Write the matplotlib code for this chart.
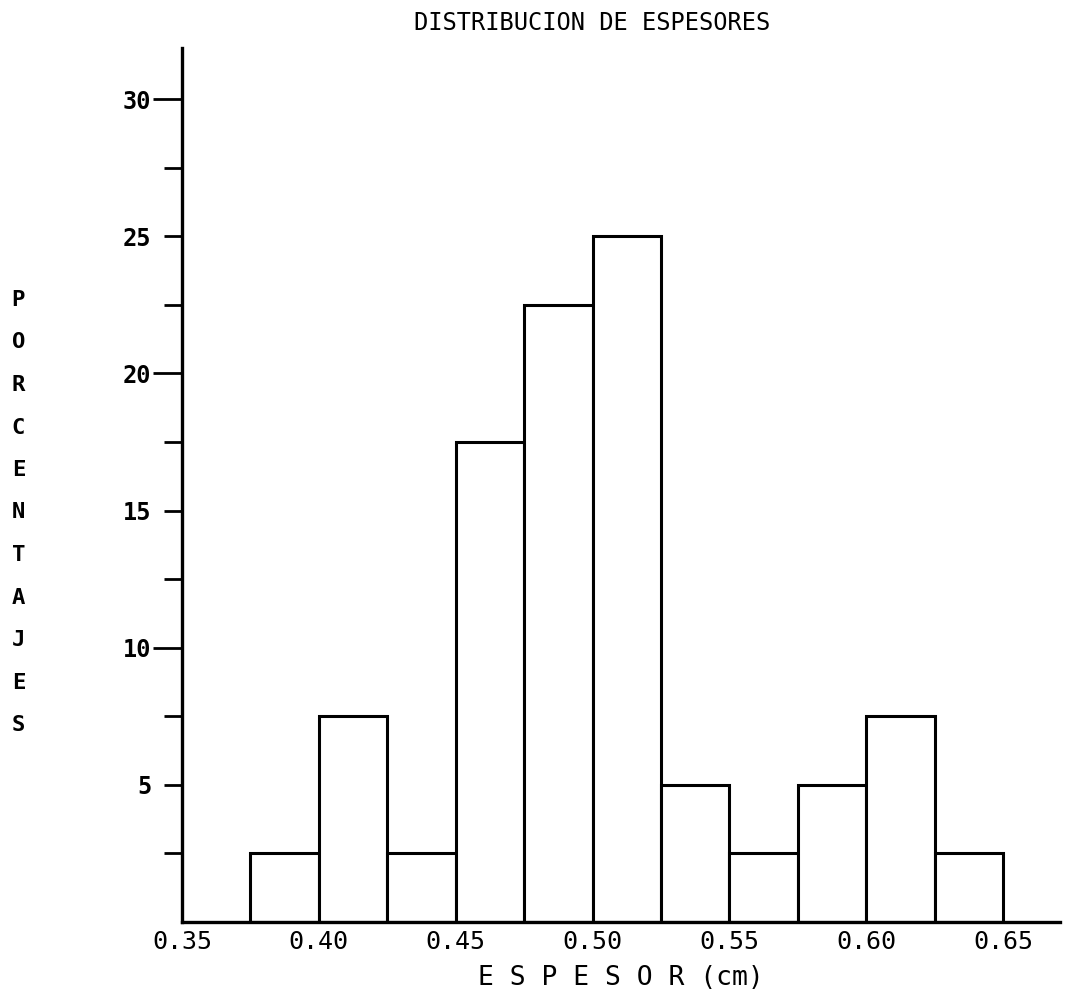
import matplotlib
matplotlib.use('Agg')
import matplotlib.pyplot as plt
from matplotlib.ticker import FixedLocator, FixedFormatter

# Datos: clases de espesor (cm) y porcentaje de muestras en cada clase
bin_left = [0.375, 0.400, 0.425, 0.450, 0.475, 0.500, 0.525, 0.550, 0.575, 0.600, 0.625]
bin_width = 0.025
porcentajes = [2.5, 7.5, 2.5, 17.5, 22.5, 25.0, 5.0, 2.5, 5.0, 7.5, 2.5]

x_ticks = [0.35, 0.40, 0.45, 0.50, 0.55, 0.60, 0.65]
x_labels = ['0.35', '0.40', '0.45', '0.50', '0.55', '0.60', '0.65']
y_major = [10, 20, 30]
y_major_labels = ['10', '20', '30']
y_minor = [2.5, 5, 7.5, 12.5, 15, 17.5, 22.5, 25, 27.5]
y_minor_labels = ['', '5', '', '', '15', '', '', '25', '']

fuente = 'DejaVu Sans Mono'
plt.rcParams['font.family'] = fuente

fig = plt.figure(figsize=(10.79, 9.96), dpi=100)
ax = fig.add_axes([0.1687, 0.0743, 0.8137, 0.8775])

# Histograma
ax.bar(bin_left, porcentajes, width=bin_width, align='edge',
       color='white', edgecolor='black', linewidth=2.2, zorder=2)

ax.set_xlim(0.35, 0.6708)
ax.set_ylim(0, 31.86)

# Ejes
for lado in ['top', 'right']:
    ax.spines[lado].set_visible(False)
for lado in ['left', 'bottom']:
    ax.spines[lado].set_linewidth(2.4)
    ax.spines[lado].set_zorder(3)

ax.set_xticks(x_ticks)
ax.set_xticklabels(x_labels, fontsize=18)
ax.tick_params(axis='x', length=0, pad=6)

ax.yaxis.set_major_locator(FixedLocator(y_major))
ax.yaxis.set_major_formatter(FixedFormatter(y_major_labels))
ax.yaxis.set_minor_locator(FixedLocator(y_minor))
ax.yaxis.set_minor_formatter(FixedFormatter(y_minor_labels))
ax.tick_params(axis='y', which='major', length=21, width=2.0, pad=1,
               labelsize=17)
ax.tick_params(axis='y', which='minor', length=13, width=2.0, pad=9,
               labelsize=17)
for t in ax.get_yticklabels(which='both'):
    t.set_fontweight('bold')

ax.set_xlabel('E S P E S O R (cm)', fontsize=19, labelpad=8)

fig.text(0.5487, 0.977, 'DISTRIBUCION DE ESPESORES', fontsize=17,
         ha='center', va='center')

# Titulo vertical del eje y, letra por letra
for i, letra in enumerate('PORCENTAJES'):
    fig.text(0.017, (996 - 300 - 42.5 * i) / 996, letra, fontsize=16,
             fontweight='bold', ha='center', va='center')

fig.savefig('out.png', dpi=100, facecolor='white')
